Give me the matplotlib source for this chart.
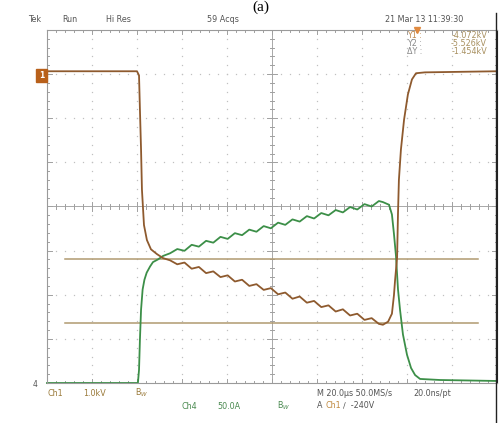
import numpy as np
import matplotlib.pyplot as plt
from matplotlib.lines import Line2D
from matplotlib.patches import Rectangle

W, H = 499, 423

# time in us, 20 us/div, screen spans -100..100
ramp_t = [-45.3, -42.1, -38.9, -35.7, -32.5, -29.3, -26.1, -22.9, -19.7, -16.5,
          -13.3, -10.1, -6.9, -3.7, -0.5, 2.7, 5.9, 9.1, 12.3, 15.5,
          18.7, 21.9, 25.1, 28.3, 31.5, 34.7, 37.9, 41.1, 44.3, 47.5]

# Ch1 voltage (kV), 1.0 kV/div
ch1_t = ([-100, -60.0, -59.1, -58.7, -58.2, -57.8, -56.9, -55.6, -53.8, -51.1, -48.4]
         + ramp_t
         + [49.3, 51.6, 53.3, 54.2, 54.7, 55.6, 56.0, 56.4, 57.3, 58.7, 60.4, 62.2, 64.0, 68.0, 100])
ch1_kv = ([0.175, 0.175, 0.08, -0.69, -1.60, -2.51, -3.31, -3.65, -3.86, -3.97, -4.06]
          + [-4.11, -4.20, -4.16, -4.30, -4.26, -4.40, -4.36, -4.49, -4.45, -4.59,
             -4.55, -4.69, -4.65, -4.78, -4.74, -4.88, -4.84, -4.98, -4.93, -5.07,
             -5.03, -5.17, -5.13, -5.27, -5.22, -5.36, -5.32, -5.46, -5.42, -5.55]
          + [-5.57, -5.50, -5.32, -4.90, -4.56, -4.04, -3.04, -2.29, -1.60, -0.92, -0.35, -0.01, 0.13, 0.15, 0.175])

# Ch4 current (A), 50 A/div
ch4_t = ([-100, -59.6, -59.1, -58.7, -58.2, -57.5, -56.7, -55.7, -54.2, -52.9, -50.7, -48.4]
         + ramp_t
         + [49.3, 52.0, 53.3, 54.2, 55.1, 56.0, 56.9, 58.2, 60.0, 61.8, 63.6, 65.8, 74.7, 100])
ch4_a = ([0, 0, 14.8, 49, 83, 106, 117, 125, 132, 137, 140, 144]
         + [147, 151.8, 149.8, 156.6, 154.5, 161.1, 159.0, 165.6, 163.3, 169.8,
            167.5, 173.8, 171.4, 177.8, 175.3, 181.7, 179.2, 185.4, 182.9, 189.1,
            186.4, 192.6, 190.0, 196.0, 193.3, 199.4, 196.6, 202.7, 200.0, 206.2]
         + [205, 202, 191, 169, 144, 106, 83, 55, 32, 17, 9, 4.6, 3.4, 2.3])

cursor_kv = [-4.072, -5.526]
cursor_span = [-92, 91.5]

ch1_scale, ch1_pos = 1.0, 2.89
ch4_scale, ch4_pos = 50.0, -4.0

fig = plt.figure(figsize=(W / 100, H / 100), dpi=100)
ax = fig.add_axes([47 / W, 40 / H, 450 / W, 353 / H])
ax.set_xlim(-100, 100)
ax.set_ylim(-4, 4)
ax.set_xticks([])
ax.set_yticks([])
for s in ax.spines.values():
    s.set_color('#9a9a9a')
    s.set_linewidth(0.8)
ax.spines['right'].set_color('#222222')

grid_c = '#c0c0c0'
# dotted graticule
for gx in range(-80, 100, 20):
    if gx == 0:
        continue
    ys = np.arange(-4, 4.01, 0.2)
    ax.plot(np.full_like(ys, gx), ys, ls='none', marker='s', ms=0.9, color=grid_c, mec='none')
for gy in range(-3, 4):
    if gy == 0:
        continue
    xs = np.arange(-100, 100.1, 4)
    ax.plot(xs, np.full_like(xs, gy), ls='none', marker='s', ms=0.9, color=grid_c, mec='none')

# centre crosshair with ticks
ax.axhline(0, color='#a8a8a8', lw=0.7)
ax.axvline(0, color='#a8a8a8', lw=0.7)
for i, tx in enumerate(np.arange(-100, 100.1, 4)):
    h = 0.1 if i % 5 == 0 else 0.05
    ax.plot([tx, tx], [-h, h], color='#a0a0a0', lw=0.7)
    ax.plot([tx, tx], [4, 4 - h], color='#a0a0a0', lw=0.7)
    ax.plot([tx, tx], [-4, -4 + h], color='#a0a0a0', lw=0.7)
for i, ty in enumerate(np.arange(-4, 4.01, 0.2)):
    h = 2.2 if i % 5 == 0 else 1.1
    ax.plot([-h, h], [ty, ty], color='#a0a0a0', lw=0.7)
    ax.plot([-100, -100 + h], [ty, ty], color='#a0a0a0', lw=0.7)
    ax.plot([100, 100 - h], [ty, ty], color='#a0a0a0', lw=0.7)

# cursors
for c in cursor_kv:
    ax.plot(cursor_span, [c / ch1_scale + ch1_pos] * 2, color='#b09a70', lw=1.1)

# traces
ax.plot(ch4_t, np.array(ch4_a) / ch4_scale + ch4_pos, color='#3c8f48', lw=1.3,
        solid_joinstyle='round', clip_on=False)
ax.plot(ch1_t, np.array(ch1_kv) / ch1_scale + ch1_pos, color='#8e5a2e', lw=1.3,
        solid_joinstyle='round')


def txt(x, y, s, c='#555555', size=5.8, ha='left', **kw):
    fig.text(x / W, 1 - y / H, s, color=c, fontsize=size, ha=ha, va='center', **kw)


txt(261, 7, '(a)', c='black', size=11, ha='center', family='Liberation Serif')
txt(28, 20, 'Tek')
txt(62, 20, 'Run')
txt(106, 20, 'Hi Res')
txt(207, 20, '59 Acqs')
txt(385, 20, '21 Mar 13 11:39:30')
txt(407, 35, 'Y1 :', c='#c08a50')
txt(407, 43, 'Y2 :', c='#8a8a8a')
txt(407, 52, '\u0394Y :', c='#8a8a8a')
txt(487, 35, '-4.072kV', c='#a89060', ha='right')
txt(487, 43, '-5.526kV', c='#a89060', ha='right')
txt(487, 52, '-1.454kV', c='#a89060', ha='right')

txt(47, 393, 'Ch1', c='#9a7a3a')
txt(83, 393, '1.0kV', c='#9a7a3a')
txt(135, 393, 'B$_W$', c='#9a7a3a')
txt(182, 406, 'Ch4', c='#4a8a50')
txt(217, 406, '50.0A', c='#4a8a50')
txt(277, 406, 'B$_W$', c='#4a8a50')
txt(317, 393, 'M 20.0\u03bcs 50.0MS/s')
txt(413, 393, '20.0ns/pt')
txt(317, 405, 'A')
txt(326, 405, 'Ch1', c='#c08a40')
txt(343, 405, '\u2215  -240V')
txt(33, 384, '4', c='#555555', size=5.5)

# Ch1 ground marker and trigger marker
fig.patches.append(Rectangle((36 / W, 1 - 82 / H), 11 / W, 13 / H,
                             transform=fig.transFigure, color='#b8601a'))
txt(41.5, 75.5, '1', c='white', size=5.5, ha='center', weight='bold')
fig.lines.append(Line2D([417 / W], [1 - 30 / H], transform=fig.transFigure,
                        marker='v', ms=4, color='#e08a40', ls='none'))
fig.lines.append(Line2D([496 / W, 496 / W], [0, 1 - 13 / H], transform=fig.transFigure,
                        color='#222222', lw=1.0))

fig.savefig('out.png', dpi=100)
